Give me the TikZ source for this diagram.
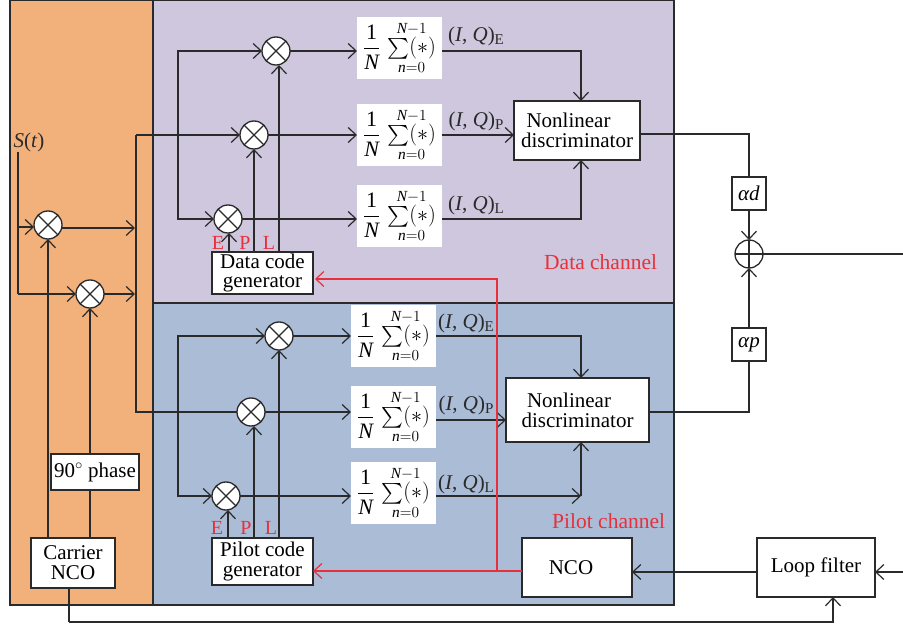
\documentclass[tikz,border=0pt]{standalone}
\usepackage{fix-cm}
\usepackage{amsmath}
\usepackage{fontspec}
\setmainfont{Liberation Serif}
\usetikzlibrary{arrows.meta}
\definecolor{carrierfill}{HTML}{F2B07B}
\definecolor{datafill}{HTML}{CFC7DD}
\definecolor{pilotfill}{HTML}{AABCD6}
\definecolor{linecol}{HTML}{2A2A2A}
\definecolor{redcol}{HTML}{E8303C}

\newcommand{\avgblock}{$\displaystyle\frac{\text{1}}{\textit{N}}\,\mathop{\textstyle\sum(\ast)}\limits_{\textit{n}=0}^{\textit{N}-1}$}
\newcommand{\iqlabel}[1]{(\textit{I}, \textit{Q})\raisebox{-3pt}{\fontsize{15}{15}\selectfont #1}}

\tikzset{
    block/.style={draw=linecol, line width=1.3pt, fill=white, inner sep=0pt, outer sep=0pt, align=center, font=\fontsize{21}{20}\selectfont},
    avg/.style={fill=white, inner sep=0pt, outer sep=0pt, minimum width=85, minimum height=62, font=\fontsize{22}{22}\selectfont},
    mixer/.style={circle, draw=linecol, line width=1.3pt, fill=white, inner sep=0pt, outer sep=0pt, minimum size=28,
        path picture={
            \draw[linecol, line width=1.2pt] (path picture bounding box.north west) -- (path picture bounding box.south east);
            \draw[linecol, line width=1.2pt] (path picture bounding box.south west) -- (path picture bounding box.north east);
        }},
    adder/.style={circle, draw=linecol, line width=1.3pt, inner sep=0pt, outer sep=0pt, minimum size=28,
        path picture={
            \draw[linecol, line width=1.2pt] (path picture bounding box.north) -- (path picture bounding box.south);
            \draw[linecol, line width=1.2pt] (path picture bounding box.west) -- (path picture bounding box.east);
        }},
    tag/.style={text=redcol, inner sep=0pt, font=\fontsize{20}{21}\selectfont},
    chan/.style={text=redcol, inner sep=0pt, font=\fontsize{21.5}{21}\selectfont},
    lab/.style={text=linecol, inner sep=0pt, font=\fontsize{21}{21}\selectfont},
    wire/.style={draw=linecol, line width=1.3pt},
    redwire/.style={draw=redcol, line width=1.1pt}
}

\begin{document}
\begin{tikzpicture}[x=1pt, y=-1pt, >={Straight Barb[length=8pt,width=15pt,line width=1.2pt]}]

\useasboundingbox (0,0) rectangle (903,628);

% ---------------- REGIONS ----------------

\filldraw[fill=carrierfill, draw=linecol, line width=1.3pt] (10,0) rectangle (153,605);
\filldraw[fill=datafill, draw=linecol, line width=1.3pt] (153,0) rectangle (674,303);
\filldraw[fill=pilotfill, draw=linecol, line width=1.3pt] (153,303) rectangle (674,605);

% ---------------- CARRIER ----------------

\node[lab] (input) at (29,142) {\textit{S}(\textit{t})};
\node[mixer] (mixI) at (48,225) {};
\node[mixer] (mixQ) at (90,294) {};
\node[block, minimum width=88, minimum height=36] (phase) at (95,472) {90$^\circ$ phase};
\node[block, minimum width=84, minimum height=50] (carrier) at (73,563) {Carrier\\NCO};

\coordinate (inputbot) at (18,294);
\coordinate (inputtap) at (18,227);
\coordinate (outI) at (135,228);
\coordinate (outQ) at (135,294);
\coordinate (carrierI) at (48,538);
\coordinate (carrierQ) at (90,538);
\coordinate (carrierout) at (69,588);

\draw[wire] (18,152) -- (inputbot);
\draw[wire, ->] (inputtap) -- (inputtap -| mixI.west);
\draw[wire, ->] (inputbot) -- (mixQ.west);
\draw[wire, ->] (mixI.east |- outI) -- (outI);
\draw[wire, ->] (mixQ.east) -- (outQ);
\draw[wire, ->] (carrierI) -- (mixI.south);
\draw[wire] (carrierQ) -- (carrierQ |- phase.south);
\draw[wire, ->] (carrierQ |- phase.north) -- (mixQ.south);

% ---------------- DATA CHANNEL ----------------

\node[mixer] (mixDE) at (276,51) {};
\node[mixer] (mixDP) at (254,135) {};
\node[mixer] (mixDL) at (228,219) {};

\node[avg] (avgDE) at (399.5,48) {\avgblock};
\node[avg] (avgDP) at (399.5,135) {\avgblock};
\node[avg] (avgDL) at (399.5,216) {\avgblock};

\node[lab] (iqDE) at (476,36) {\iqlabel{E}};
\node[lab] (iqDP) at (476,121) {\iqlabel{P}};
\node[lab] (iqDL) at (476,205) {\iqlabel{L}};

\node[block, minimum width=126, minimum height=59] (discD) at (577,130.5) {Nonlinear\hspace*{17pt}\\discriminator};
\node[block, minimum width=101, minimum height=42, font=\fontsize{21}{19}\selectfont] (genD) at (262.5,273) {Data code\\generator};

\node[tag] (tagDE) at (218,243) {E};
\node[tag] (tagDP) at (245,243) {P};
\node[tag] (tagDL) at (269,243) {L};
\node[chan, anchor=west] (nameD) at (544,262) {Data channel};

\coordinate (tapD) at (136,135);
\coordinate (busDtop) at (178,51);
\coordinate (busDbot) at (178,219);
\coordinate (genDE) at (229,252);
\coordinate (genDP) at (254,252);
\coordinate (genDL) at (279,252);
\coordinate (discDx) at (581,101);
\coordinate (discDout) at (640,134);

\draw[wire, <->] (mixDE.west) -- (busDtop) -- (busDbot) -- (mixDL.west);
\draw[wire, ->] (tapD) -- (mixDP.west);
\draw[wire, ->] (mixDE.east) -- (mixDE.east -| avgDE.west);
\draw[wire, ->] (mixDP.east) -- (avgDP.west);
\draw[wire, ->] (mixDL.east) -- (mixDL.east -| avgDL.west);
\draw[wire, ->] (genDE) -- (genDE |- mixDL.south);
\draw[wire, ->] (genDP) -- (mixDP.south);
\draw[wire, ->] (genDL) -- (genDL |- mixDE.south);
\draw[wire, ->] (mixDE.east -| avgDE.east) -| (discDx);
\draw[wire, ->] (avgDP.east) -- (avgDP.east -| discD.west);
\draw[wire, ->] (mixDL.east -| avgDL.east) -| (discDx |- discD.south);

% ---------------- PILOT CHANNEL ----------------

\node[mixer] (mixPE) at (279,336) {};
\node[mixer] (mixPP) at (251,412) {};
\node[mixer] (mixPL) at (226,496) {};

\node[avg] (avgPE) at (393.5,336) {\avgblock};
\node[avg] (avgPP) at (393.5,417) {\avgblock};
\node[avg] (avgPL) at (393.5,493) {\avgblock};

\node[lab] (iqPE) at (466,323) {\iqlabel{E}};
\node[lab] (iqPP) at (466,405) {\iqlabel{P}};
\node[lab] (iqPL) at (466,484) {\iqlabel{L}};

\node[block, minimum width=143, minimum height=64] (discP) at (577.5,410) {Nonlinear\hspace*{17pt}\\discriminator};
\node[block, minimum width=101, minimum height=47] (genP) at (262.5,561.5) {Pilot code\\generator};
\node[block, minimum width=110, minimum height=59] (ncoP) at (577,567.5) {NCO\hspace*{12pt}};

\node[tag] (tagPE) at (217,528) {E};
\node[tag] (tagPP) at (246,528) {P};
\node[tag] (tagPL) at (271,528) {L};
\node[chan, anchor=west] (nameP) at (552,521) {Pilot channel};

\coordinate (tapP) at (136,412);
\coordinate (busPtop) at (178,336);
\coordinate (busPbot) at (178,496);
\coordinate (genPE) at (228,538);
\coordinate (genPP) at (254,538);
\coordinate (genPL) at (279,538);
\coordinate (discPx) at (581,378);
\coordinate (cornerP) at (581,496);
\coordinate (discPout) at (649,412);

\draw[wire] (tapD) -- (tapP) -- (mixPP.west);
\draw[wire, <->] (mixPE.west) -- (busPtop) -- (busPbot) -- (mixPL.west);
\draw[wire, ->] (mixPE.east) -- (avgPE.west);
\draw[wire, ->] (mixPP.east) -- (mixPP.east -| avgPP.west);
\draw[wire, ->] (mixPL.east) -- (mixPL.east -| avgPL.west);
\draw[wire, ->] (genPE) -- (genPE |- mixPL.south);
\draw[wire, ->] (genPP) -- (genPP |- mixPP.south);
\draw[wire, ->] (genPL) -- (genPL |- mixPE.south);
\draw[wire, ->] (avgPE.east) -| (discPx);
\draw[wire, ->] (avgPP.east |- 0,420) -- (discP.west |- 0,420);
\draw[wire, ->] (mixPL.east -| avgPL.east) -- (cornerP);
\draw[wire, ->] (cornerP) -- (cornerP |- discP.south);

% ---------------- LOOP ----------------

\node[block, minimum width=34, minimum height=33] (gainD) at (749,193.5) {\textit{αd}};
\node[block, minimum width=34, minimum height=33] (gainP) at (749,344.5) {\textit{αp}};
\node[adder] (adder) at (749,254) {};
\node[block, minimum width=118, minimum height=59] (filter) at (816,567.5) {Loop filter};

\coordinate (addout) at (903,254);
\coordinate (filterin) at (903,572);
\coordinate (filterbot) at (833,597);
\coordinate (loopback) at (69,622);

\draw[wire] (discDout) -| (gainD.north);
\draw[wire, ->] (gainD.south) -- (adder.north);
\draw[wire, ->] (gainP.north) -- (adder.south);
\draw[wire] (discPout) -| (gainP.south);
\draw[wire] (adder.east) -- (addout);
\draw[wire, ->] (filterin) -- (filterin -| filter.east);
\draw[wire, ->] (filter.west |- filterin) -- (filterin -| ncoP.east);
\draw[wire] (carrierout) -- (loopback);
\draw[wire, ->] (loopback) -| (filterbot);

% ---------------- CODE CONTROL ----------------

\coordinate (tapN) at (497,571);
\coordinate (genDin) at (315,279);

\draw[redwire, ->] (ncoP.west |- tapN) -- (tapN -| genP.east);
\draw[redwire, ->] (tapN) |- (genDin);

\end{tikzpicture}
\end{document}
